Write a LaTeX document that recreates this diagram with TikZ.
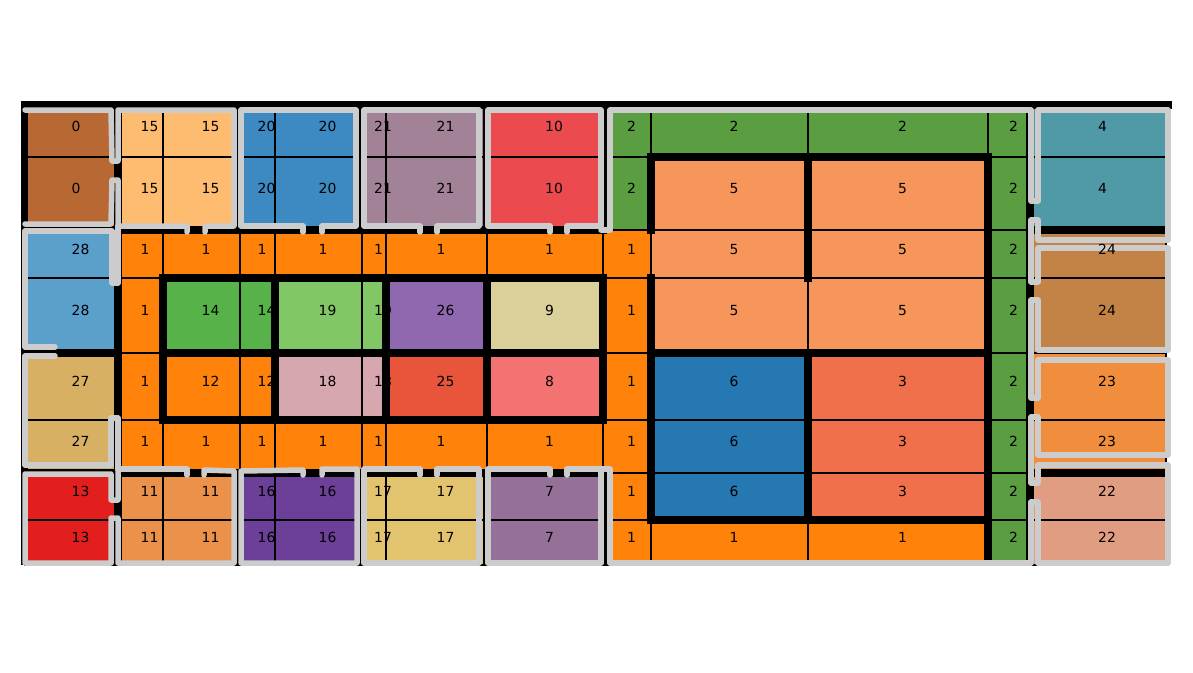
\documentclass[tikz,border=0pt]{standalone}
\usepackage{fontspec}
\usepackage{tikz}
\newfontfamily\cellfont{DejaVu Sans}

\definecolor{c0}{HTML}{B86833}
\definecolor{c1}{HTML}{FF820A}
\definecolor{c2}{HTML}{5A9E41}
\definecolor{c3}{HTML}{F0704B}
\definecolor{c4}{HTML}{5099A6}
\definecolor{c5}{HTML}{F6965B}
\definecolor{c6}{HTML}{2678B2}
\definecolor{c7}{HTML}{957199}
\definecolor{c8}{HTML}{F27372}
\definecolor{c9}{HTML}{DBCF9A}
\definecolor{c10}{HTML}{EB4A4E}
\definecolor{c11}{HTML}{EB914A}
\definecolor{c12}{HTML}{FF820A}
\definecolor{c13}{HTML}{E31E1F}
\definecolor{c14}{HTML}{57B249}
\definecolor{c15}{HTML}{FDBC6F}
\definecolor{c16}{HTML}{6C3F98}
\definecolor{c17}{HTML}{E3C46E}
\definecolor{c18}{HTML}{D6A7AE}
\definecolor{c19}{HTML}{82C765}
\definecolor{c20}{HTML}{3D89C1}
\definecolor{c21}{HTML}{A28296}
\definecolor{c22}{HTML}{E09D81}
\definecolor{c23}{HTML}{F08E3D}
\definecolor{c24}{HTML}{C48346}
\definecolor{c25}{HTML}{E8553B}
\definecolor{c26}{HTML}{9068AF}
\definecolor{c27}{HTML}{D8B063}
\definecolor{c28}{HTML}{5B9FCB}

\tikzset{
  cell/.style={draw=black, line width=1.2},
  wall/.style={line width=7.5, line cap=rect},
  trace/.style={line width=5.5, color=black!20, line cap=round, line join=round},
  lbl/.style={anchor=base west, inner sep=0pt, font=\cellfont\fontsize{13.9}{16}\selectfont}
}

\def\colx{{25,118,163,240,275,362,386,487,603,651,808,988,1030,1166}}
\def\rowy{{105,157,230,278,353,420,473,520,565}}
\def\plan{0/{0,15,15,20,20,21,21,10,2,2,2,2,4},
  1/{0,15,15,20,20,21,21,10,2,5,5,2,4},
  2/{28,1,1,1,1,1,1,1,1,5,5,2,24},
  3/{28,1,14,14,19,19,26,9,1,5,5,2,24},
  4/{27,1,12,12,18,18,25,8,1,6,3,2,23},
  5/{27,1,1,1,1,1,1,1,1,6,3,2,23},
  6/{13,11,11,16,16,17,17,7,1,6,3,2,22},
  7/{13,11,11,16,16,17,17,7,1,1,1,2,22}}

\begin{document}
\begin{tikzpicture}[x=1pt, y=-1pt]
  \useasboundingbox (0,0) rectangle (1193,672);

  \foreach \r/\labs in \plan {
    \foreach \lab [count=\c from 0] in \labs {
      \pgfmathsetmacro\xl{\colx[\c]}
      \pgfmathsetmacro\xr{\colx[\c+1]}
      \pgfmathsetmacro\yt{\rowy[\r]}
      \pgfmathsetmacro\yb{\rowy[\r+1]}
      \draw [cell, fill=c\lab] (\xl,\yt) rectangle (\xr,\yb);
    }
  }

  \draw [wall] (24.5,105) -- (1168.5,105);
  \draw [wall] (24.5,105) -- (24.5,561);
  \draw [wall] (118,105) -- (118,561);
  \draw [wall] (25,230) -- (603,230);
  \draw [wall] (25,473) -- (603,473);
  \draw [wall] (25,353) -- (118,353);
  \foreach \x in {240,362,487,603} {
    \draw [wall] (\x,105) -- (\x,230);
    \draw [wall] (\x,473) -- (\x,561);
  }
  \draw [wall] (163,278) rectangle (603,420);
  \draw [wall] (163,353) -- (603,353);
  \foreach \x in {275,386,487} \draw [wall] (\x,278) -- (\x,420);
  \draw [wall] (651,157) -- (988,157);
  \draw [wall] (651,157) -- (651,230);
  \draw [wall] (651,278) -- (651,520);
  \draw [wall] (808,157) -- (808,278);
  \draw [wall] (808,353) -- (808,520);
  \draw [wall] (651,353) -- (988,353);
  \draw [wall] (651,520) -- (988,520);
  \draw [wall] (988,157) -- (988,561);
  \draw [wall] (1030,105) -- (1030,561);
  \draw [wall] (1030,230) -- (1166,230);
  \draw [wall] (1030,473) -- (1166,473);

  \draw [trace] (25,110) -- (111,110) -- (112,161) -- (118,161) -- (118,110) -- (234,110) -- (234,226) -- (205,226) -- (205,232);
  \draw [trace] (187,232) -- (187,226) -- (118,226) -- (118,180) -- (112,180) -- (111,224) -- (25,224);
  \draw [trace] (118,226) -- (118,283) -- (112,283) -- (112,231) -- (25,231) -- (25,347) -- (55,347);
  \draw [trace] (55,356) -- (25,356) -- (25,465) -- (111,465) -- (111,418) -- (118,418) -- (118,469) -- (187,469) -- (187,475);
  \draw [trace] (204,475) -- (204,470) -- (234,471) -- (234,563) -- (118,563) -- (118,518) -- (111,518) -- (111,563) -- (25,563) -- (25,474) -- (111,474) -- (111,500) -- (118,500) -- (118,469);
  \draw [trace] (303,232) -- (303,226) -- (241,226) -- (241,110) -- (356,110) -- (356,226) -- (322,226) -- (322,232);
  \draw [trace] (420,232) -- (420,226) -- (364,226) -- (364,110) -- (479,110) -- (479,226) -- (437,226) -- (437,232);
  \draw [trace] (550,232) -- (550,226) -- (488,226) -- (488,110) -- (601,110) -- (601,226) -- (567,226) -- (567,232);
  \draw [trace] (601,230) -- (610,230) -- (610,110) -- (1031,110) -- (1031,201) -- (1038,201) -- (1038,110) -- (1168,110) -- (1168,240) -- (1038,240) -- (1038,220) -- (1031,220) -- (1031,282) -- (1038,282) -- (1038,248) -- (1168,248) -- (1168,350) -- (1038,350) -- (1038,300) -- (1031,300) -- (1031,398) -- (1038,398) -- (1038,360) -- (1168,360) -- (1168,455) -- (1038,455) -- (1038,417) -- (1031,417) -- (1031,483) -- (1038,483) -- (1038,465) -- (1168,465) -- (1168,563) -- (1038,563) -- (1038,502) -- (1031,502) -- (1031,563) -- (610,563) -- (610,469) -- (567,469) -- (567,475);
  \draw [trace] (303,475) -- (303,470) -- (241,471) -- (241,563) -- (357,563) -- (357,469) -- (322,469) -- (322,475);
  \draw [trace] (420,475) -- (420,469) -- (364,469) -- (364,563) -- (479,563) -- (479,469) -- (437,469) -- (437,475);
  \draw [trace] (550,475) -- (550,469) -- (488,469) -- (488,563) -- (601,563) -- (601,469);

  \foreach \r/\labs in \plan {
    \foreach \lab [count=\c from 0] in \labs {
      \pgfmathsetmacro\xl{\colx[\c]}
      \pgfmathsetmacro\xr{\colx[\c+1]}
      \pgfmathsetmacro\yt{\rowy[\r]}
      \pgfmathsetmacro\yb{\rowy[\r+1]}
      \node [lbl] (n\r-\c) at ({(\xl+\xr)/2},{(\yt+\yb)/2}) {\lab};
    }
  }
\end{tikzpicture}
\end{document}
